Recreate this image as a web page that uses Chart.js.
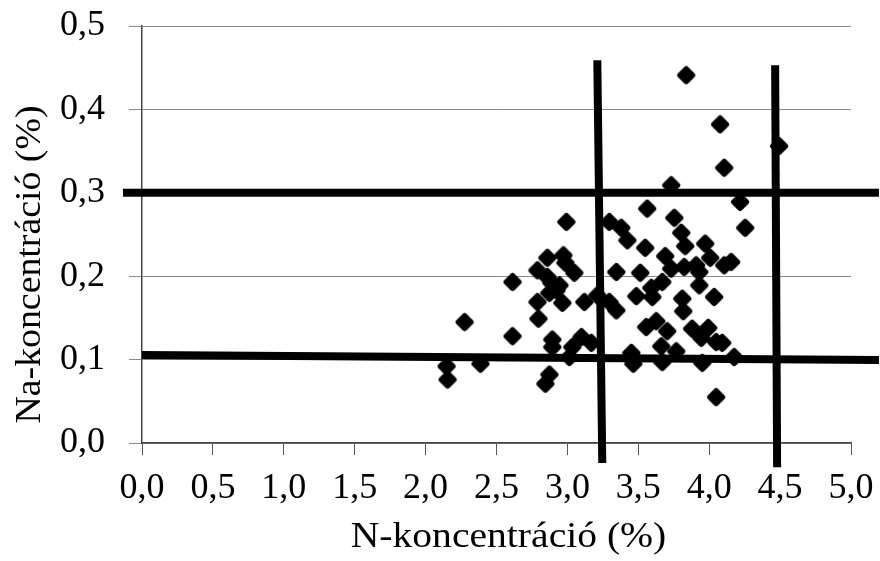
<!DOCTYPE html>
<html>
<head>
<meta charset="utf-8">
<script src="https://cdn.jsdelivr.net/npm/chart.js@4"></script>
<style>
  html, body { margin: 0; padding: 0; background: #fff; }
  #wrap { width: 880px; height: 561px; }
</style>
</head>
<body>
<div id="wrap"><canvas id="chart" width="880" height="561"></canvas></div>
<script>
// N vs Na concentration of the samples (%)
const nValues = [
    2.148, 2.155, 2.275, 2.387, 2.613, 2.613, 2.789, 2.859, 2.972, 2.986,
    2.859, 3.049, 2.887, 2.944, 2.923, 2.873, 2.965, 2.789, 3.120, 2.796,
    2.894, 2.894, 3.099, 3.035, 3.169, 3.014, 2.873, 2.845, 3.211, 2.993,
    3.296, 3.345, 3.345, 3.486, 3.423, 3.451, 3.465, 3.514, 3.549, 3.690,
    3.831, 3.972, 4.007, 3.732, 3.824, 3.908, 3.930, 4.106, 4.155, 3.669,
    3.592, 3.930, 3.599, 3.810, 4.035, 3.817, 3.556, 3.627, 3.704, 3.880,
    3.993, 3.944, 4.049, 4.092, 3.662, 3.768, 3.669, 3.951, 4.176, 4.049,
    3.838, 4.077, 4.106, 4.493, 3.732, 4.218, 3.563, 3.754, 3.803, 4.254,
    3.296, 3.380
];
const naValues = [
    0.092, 0.076, 0.145, 0.095, 0.193, 0.128, 0.207, 0.222, 0.225, 0.216,
    0.199, 0.204, 0.192, 0.189, 0.183, 0.180, 0.168, 0.169, 0.169, 0.149,
    0.124, 0.115, 0.127, 0.115, 0.120, 0.103, 0.082, 0.071, 0.177, 0.265,
    0.169, 0.159, 0.205, 0.176, 0.243, 0.108, 0.095, 0.204, 0.234, 0.224,
    0.236, 0.239, 0.222, 0.209, 0.211, 0.213, 0.205, 0.213, 0.217, 0.193,
    0.186, 0.189, 0.175, 0.173, 0.175, 0.158, 0.139, 0.146, 0.134, 0.137,
    0.138, 0.126, 0.121, 0.120, 0.116, 0.110, 0.097, 0.096, 0.103, 0.055,
    0.441, 0.382, 0.330, 0.356, 0.309, 0.289, 0.281, 0.270, 0.252, 0.258,
    0.265, 0.258
];

// limit lines, hand drawn on the original so slightly tilted
const naUpperLine = [{ x: -0.134, y: 0.3 }, { x: 5.197, y: 0.3 }];
const naLowerLine = [{ x: 0, y: 0.1055 }, { x: 5.197, y: 0.0995 }];
const nLowerLine = [{ x: 3.211, y: 0.459 }, { x: 3.246, y: -0.024 }];
const nUpperLine = [{ x: 4.465, y: 0.453 }, { x: 4.479, y: -0.029 }];

const xTitle = "N-koncentráció (%)";
const yTitle = "Na-koncentráció (%)";

const FONT = "'Liberation Serif', 'Times New Roman', serif";

// rounded diamond marker
function diamondMarker(r) {
    const c = document.createElement("canvas");
    const s = Math.ceil(r * 2 + 8);
    c.width = s;
    c.height = s;
    const g = c.getContext("2d");
    const m = s / 2;
    g.beginPath();
    g.moveTo(m, m - r);
    g.lineTo(m + r, m);
    g.lineTo(m, m + r);
    g.lineTo(m - r, m);
    g.closePath();
    g.fillStyle = "#000";
    g.strokeStyle = "#000";
    g.lineJoin = "round";
    g.lineWidth = 6;
    g.fill();
    g.stroke();
    return c;
}

const points = nValues.map((n, i) => ({ x: n, y: naValues[i] }));

function limitLine(data) {
    return {
        data: data,
        showLine: true,
        borderColor: "#000",
        borderWidth: 8,
        pointRadius: 0,
        clip: false
    };
}

const commaLabel = v => v.toFixed(1).replace(".", ",");

// axis titles drawn by hand so they can sit where the layout wants them
const axisTitles = {
    id: "axisTitles",
    afterDraw(chart) {
        const { ctx, chartArea } = chart;
        ctx.save();
        ctx.fillStyle = "#000";
        ctx.font = "36px " + FONT;
        ctx.textAlign = "center";
        ctx.textBaseline = "alphabetic";
        ctx.save();
        ctx.translate((chartArea.left + chartArea.right) / 2 + 12, chartArea.bottom + 104);
        ctx.scale(1.1, 1);
        ctx.fillText(xTitle, 0, 0);
        ctx.restore();
        ctx.save();
        ctx.translate(chartArea.left - 102, (chartArea.top + chartArea.bottom) / 2 + 30);
        ctx.rotate(-Math.PI / 2);
        ctx.scale(1.05, 1);
        ctx.fillText(yTitle, 0, 0);
        ctx.restore();
        ctx.restore();
    }
};

new Chart(document.getElementById("chart"), {
    type: "scatter",
    data: {
        datasets: [
            limitLine(naUpperLine),
            limitLine(naLowerLine),
            limitLine(nLowerLine),
            limitLine(nUpperLine),
            {
                data: points,
                pointStyle: diamondMarker(6),
                pointRadius: 9,
                backgroundColor: "#000",
                borderColor: "#000"
            }
        ]
    },
    options: {
        responsive: false,
        animation: false,
        events: [],
        layout: { padding: { top: 26, right: 29, left: 0, bottom: 0 } },
        plugins: {
            legend: { display: false },
            tooltip: { enabled: false }
        },
        scales: {
            x: {
                type: "linear",
                min: 0,
                max: 5,
                afterFit: s => {
                    s.height = 118;
                    s.paddingLeft = 0;
                    s.paddingRight = 0;
                },
                ticks: {
                    stepSize: 0.5,
                    callback: commaLabel,
                    color: "#000",
                    padding: 12,
                    maxRotation: 0,
                    autoSkip: false,
                    font: { family: FONT, size: 36 }
                },
                grid: {
                    drawOnChartArea: false,
                    drawTicks: true,
                    tickLength: 12,
                    color: "#555",
                    lineWidth: 1
                },
                border: { display: true, color: "#444", width: 1.5 }
            },
            y: {
                type: "linear",
                min: 0,
                max: 0.5,
                afterFit: s => {
                    s.width = 142;
                    s.paddingTop = 0;
                    s.paddingBottom = 0;
                },
                ticks: {
                    stepSize: 0.1,
                    callback: commaLabel,
                    color: "#000",
                    padding: 24,
                    font: { family: FONT, size: 36 }
                },
                grid: {
                    color: "#8a8a8a",
                    lineWidth: 1,
                    tickLength: 13
                },
                border: { display: true, color: "#444", width: 1.5 }
            }
        }
    },
    plugins: [axisTitles]
});
</script>
</body>
</html>
